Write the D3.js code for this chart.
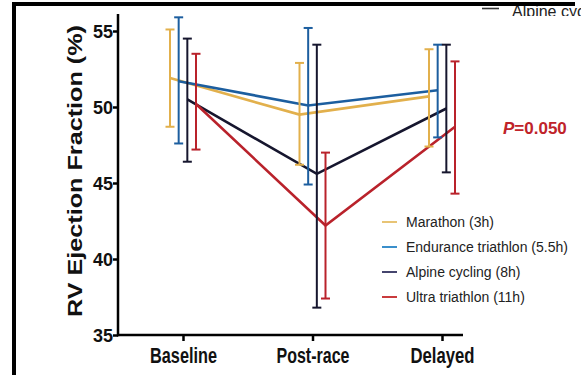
<!DOCTYPE html>
<html><head><meta charset="utf-8">
<script src="https://cdn.jsdelivr.net/npm/d3@7"></script>
<style>body{margin:0;background:#fff}svg{display:block}</style>
</head><body>
<script>
const categories = ["Baseline", "Post-race", "Delayed"];
const seriesNames = ["Marathon (3h)", "Endurance triathlon (5.5h)", "Alpine cycling (8h)", "Ultra triathlon (11h)"];
const meanMarathon = [51.9, 49.5, 50.7];
const meanEndurance = [51.7, 50.1, 51.1];
const meanAlpine = [50.5, 45.6, 49.9];
const meanUltra = [50.2, 42.2, 48.7];
const lowMarathon = [48.7, 46.2, 47.4];
const highMarathon = [55.1, 52.9, 53.8];
const lowEndurance = [47.6, 44.9, 48.0];
const highEndurance = [55.9, 55.2, 54.1];
const lowAlpine = [46.4, 36.8, 45.7];
const highAlpine = [54.5, 54.1, 54.1];
const lowUltra = [47.2, 37.4, 44.3];
const highUltra = [53.5, 47.0, 53.0];
const yTicks = [35, 40, 45, 50, 55];
const pText = "0.050";

const lineColors = ["#E2B04C", "#1C5E9F", "#16162E", "#B9222B"];
const legendColors = ["#E8C475", "#3A8FCB", "#45456E", "#C93B3D"];
const tickLabelWidths = [67, 73, 64];

const series = seriesNames.map((name, i) => ({
  name,
  mean: [meanMarathon, meanEndurance, meanAlpine, meanUltra][i],
  low: [lowMarathon, lowEndurance, lowAlpine, lowUltra][i],
  high: [highMarathon, highEndurance, highAlpine, highUltra][i],
  color: lineColors[i], legend: legendColors[i]
}));

const W = 581, H = 375;
const svg = d3.select("body").append("svg").attr("width", W).attr("height", H);

const x = d3.scalePoint().domain(categories).range([183, 442]);
const off = d3.scalePoint().domain(seriesNames).range([-13, 13]);
const y = d3.scaleLinear().domain([35, 55]).range([335, 31]);

// frame
svg.append("rect").attr("x", 12).attr("y", 2).attr("width", 4).attr("height", H).attr("fill", "#000");
// cropped legend fragment at top right
const clip = svg.append("defs").append("clipPath").attr("id", "topclip");
clip.append("rect").attr("x", 0).attr("y", 6).attr("width", W).attr("height", 10);
const frag = svg.append("g").attr("clip-path", "url(#topclip)");
frag.append("line").attr("x1", 482).attr("x2", 499).attr("y1", 8.5).attr("y2", 8.5).attr("stroke", "#333").attr("stroke-width", 1.6);
frag.append("text").attr("x", 512).attr("y", 17).attr("font-family", "Liberation Sans, Arial, sans-serif")
  .attr("font-size", 16).attr("fill", "#222").text("Alpine cyc");
svg.append("rect").attr("x", 12).attr("y", 2).attr("width", 563).attr("height", 4).attr("fill", "#000");

// axes
const yAxis = svg.append("g").attr("transform", "translate(118,0)")
  .call(d3.axisLeft(y).tickValues(yTicks).tickSize(5).tickSizeOuter(0).tickFormat(d3.format("d")));
yAxis.select(".domain").remove();
yAxis.selectAll(".tick line").attr("stroke", "#000").attr("stroke-width", 2.5);
yAxis.selectAll(".tick text").attr("x", -5).attr("font-family", "Liberation Sans, Arial, sans-serif")
  .attr("font-weight", "bold").attr("font-size", 18).attr("fill", "#111").attr("dy", "0.34em");
svg.append("line").attr("x1", 118).attr("x2", 118).attr("y1", 14).attr("y2", y(35) + 1.2)
  .attr("stroke", "#000").attr("stroke-width", 2.5);

const xAxis = svg.append("g").attr("transform", "translate(0,335)")
  .call(d3.axisBottom(x).tickSize(6).tickSizeOuter(0));
xAxis.select(".domain").remove();
xAxis.selectAll(".tick line").attr("stroke", "#000").attr("stroke-width", 2.5);
xAxis.selectAll(".tick text").attr("y", 12).attr("font-family", "Liberation Sans, Arial, sans-serif")
  .attr("font-weight", "bold").attr("font-size", 22).attr("fill", "#111")
  .attr("textLength", (d, i) => tickLabelWidths[i]).attr("lengthAdjust", "spacingAndGlyphs");
svg.append("line").attr("x1", 117).attr("x2", 463).attr("y1", 335).attr("y2", 335)
  .attr("stroke", "#000").attr("stroke-width", 2.5);

// y label
svg.append("text").attr("transform", "translate(82,171) rotate(-90)").attr("text-anchor", "middle")
  .attr("font-family", "Liberation Sans, Arial, sans-serif").attr("font-weight", "bold").attr("font-size", 21)
  .attr("textLength", 292).attr("lengthAdjust", "spacingAndGlyphs").attr("fill", "#111")
  .text("RV Ejection Fraction (%)");

// lines
const line = d3.line().x(d => d[0]).y(d => d[1]);
series.forEach(s => {
  const pts = categories.map((c, i) => [x(c) + off(s.name), y(s.mean[i])]);
  svg.append("path").attr("d", line(pts)).attr("fill", "none").attr("stroke", s.color).attr("stroke-width", 2.6);
});
// error bars
series.forEach(s => {
  const g = svg.append("g").attr("stroke", s.color).attr("stroke-width", 2);
  categories.forEach((c, i) => {
    const cx = x(c) + off(s.name);
    g.append("line").attr("x1", cx).attr("x2", cx).attr("y1", y(s.low[i])).attr("y2", y(s.high[i]));
    g.append("line").attr("x1", cx - 4.5).attr("x2", cx + 4.5).attr("y1", y(s.low[i])).attr("y2", y(s.low[i]));
    g.append("line").attr("x1", cx - 4.5).attr("x2", cx + 4.5).attr("y1", y(s.high[i])).attr("y2", y(s.high[i]));
  });
});

// legend
const leg = svg.append("g");
series.forEach((s, i) => {
  const yy = 222 + i * 25;
  leg.append("line").attr("x1", 382).attr("x2", 397).attr("y1", yy).attr("y2", yy).attr("stroke", s.legend).attr("stroke-width", 2);
  leg.append("text").attr("x", 406).attr("y", yy).attr("dy", "0.35em")
    .attr("font-family", "Liberation Sans, Arial, sans-serif").attr("font-size", 14).attr("fill", "#222").text(s.name);
});

// P value
const pt = svg.append("text").attr("x", 503).attr("y", 134).attr("font-family", "Liberation Sans, Arial, sans-serif")
  .attr("font-weight", "bold").attr("font-size", 17).attr("fill", "#C0232A");
pt.append("tspan").attr("font-style", "italic").text("P");
pt.append("tspan").text("=" + pText);
</script>
</body></html>
